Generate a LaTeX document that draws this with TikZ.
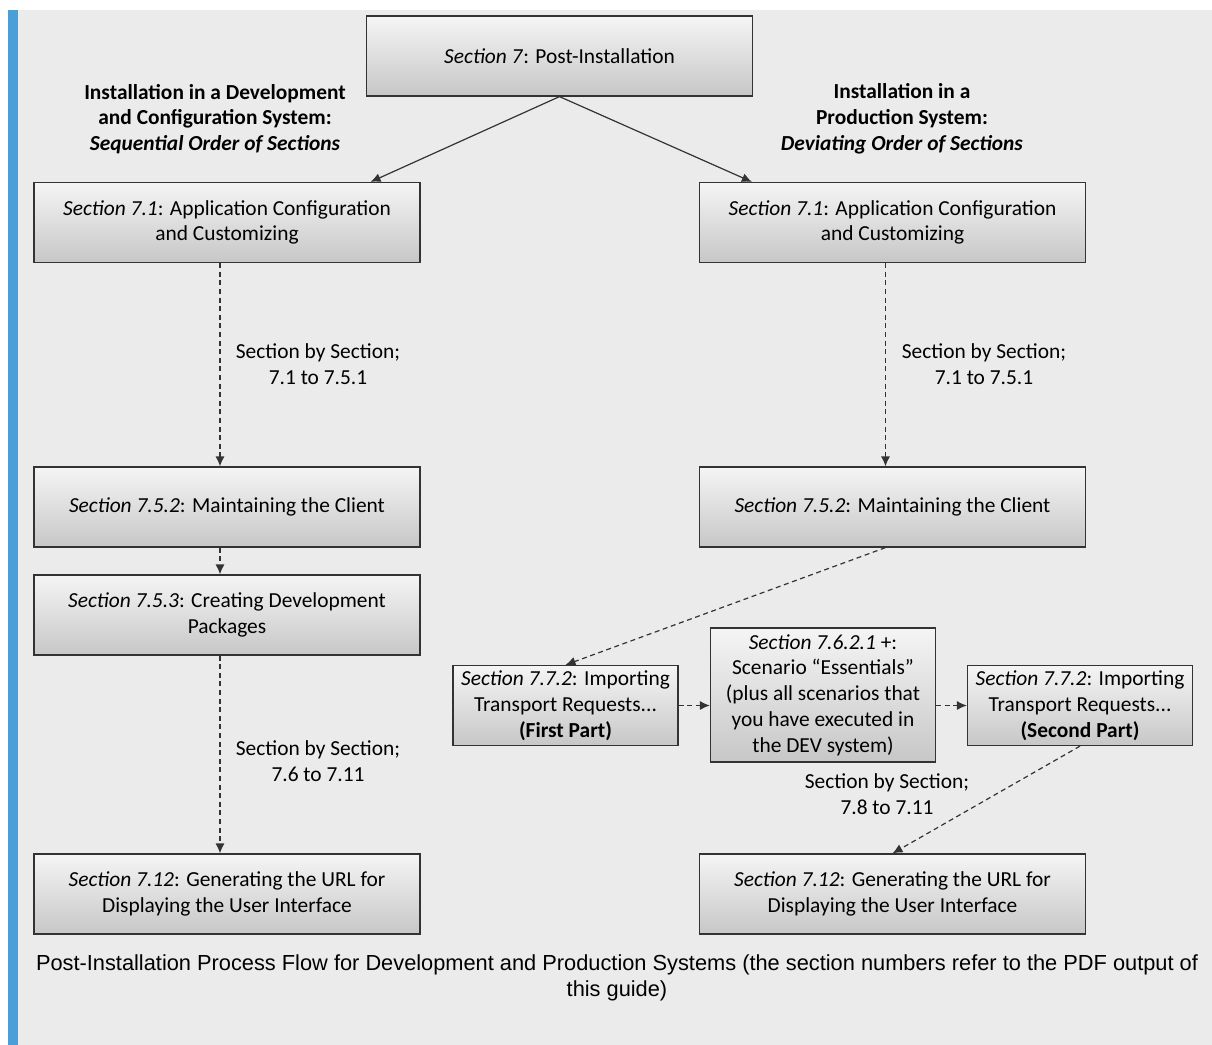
\documentclass[tikz,border=0pt]{standalone}
\usepackage{fontspec}
\setmainfont{Carlito}
\newfontfamily\capfont{Liberation Sans}
\usepackage{xcolor}
\usetikzlibrary{arrows.meta}

\definecolor{bggray}{HTML}{EBEBEB}
\definecolor{barblue}{HTML}{4A9FD8}
\definecolor{linegray}{HTML}{333333}

\begin{document}
\begin{tikzpicture}[x=0.5pt,y=-0.5pt,
    box/.style={draw=linegray, line width=0.6pt, top color=black!4, bottom color=black!22,
        minimum width=193pt, minimum height=40pt, align=center, inner sep=2pt,
        font=\fontsize{10.7}{12.9}\selectfont},
    sbox/.style={box, minimum width=112.5pt},
    hdr/.style={align=center, font=\fontsize{10.7}{12.9}\selectfont\bfseries},
    lbl/.style={align=center, font=\fontsize{10.7}{12.9}\selectfont},
    arr/.style={draw=linegray, line width=0.6pt, -{Latex[length=5pt,width=4.5pt]}},
    darr/.style={arr, dash pattern=on 2.5pt off 1.8pt}
]
    \useasboundingbox (0,0) rectangle (1212,1045);
    \fill[white] (0,0) rectangle (1212,1045);
    \fill[bggray] (18,10) rectangle (1212,1045);
    \fill[barblue] (8,10) rectangle (18,1045);

    \node[box] (S7) at (559.5,56) {\textit{Section 7}: Post-Installation};

    \node[hdr] (HL) at (215,119) {Installation in a Development\\and Configuration System:\\\textit{Sequential Order of Sections}};
    \node[hdr] (HR) at (902,119) {Installation in a\\Production System:\\\textit{Deviating Order of Sections}};

    % left column
    \node[box] (L1) at (227,222.5) {\textit{Section 7.1}: Application Configuration\\and Customizing};
    \node[box] (L2) at (227,507) {\textit{Section 7.5.2}: Maintaining the Client};
    \node[box] (L3) at (227,615) {\textit{Section 7.5.3}: Creating Development\\Packages};
    \node[box] (L4) at (227,894) {\textit{Section 7.12}: Generating the URL for\\Displaying the User Interface};

    % right column
    \node[box] (R1) at (892.5,222.5) {\textit{Section 7.1}: Application Configuration\\and Customizing};
    \node[box] (R2) at (892.5,507) {\textit{Section 7.5.2}: Maintaining the Client};
    \node[sbox] (B1) at (565.5,705.5) {\textit{Section 7.7.2}: Importing\\Transport Requests...\\\textbf{(First Part)}};
    \node[sbox, minimum height=67pt] (B2) at (823,695) {\textit{Section 7.6.2.1} +:\\Scenario “Essentials”\\(plus all scenarios that\\you have executed in\\the DEV system)};
    \node[sbox] (B3) at (1080,705.5) {\textit{Section 7.7.2}: Importing\\Transport Requests...\\\textbf{(Second Part)}};
    \node[box] (R4) at (892.5,894) {\textit{Section 7.12}: Generating the URL for\\Displaying the User Interface};

    \node[lbl] (LA) at (318,364) {Section by Section;\\7.1 to 7.5.1};
    \node[lbl] (LB) at (318,761.5) {Section by Section;\\7.6 to 7.11};
    \node[lbl] (RA) at (984,364) {Section by Section;\\7.1 to 7.5.1};
    \node[lbl] (RB) at (887,794.5) {Section by Section;\\7.8 to 7.11};

    \node[align=center, font=\capfont\fontsize{10.9}{13}\selectfont] (CAP) at (617,978)
        {Post-Installation Process Flow for Development and Production Systems (the section numbers refer to the PDF output of\\this guide)};

    \draw[arr] (S7.south) -- ([xshift=-25pt]L1.north east);
    \draw[arr] (S7.south) -- ([xshift=26.5pt]R1.north west);

    \draw[darr] ([xshift=-3.5pt]L1.south) -- ([xshift=-3.5pt]L2.north);
    \draw[darr] ([xshift=-3.5pt]L2.south) -- ([xshift=-3.5pt]L3.north);
    \draw[darr] ([xshift=-3.5pt]L3.south) -- ([xshift=-3.5pt]L4.north);

    \draw[darr] ([xshift=-3.5pt]R1.south) -- ([xshift=-3.5pt]R2.north);
    \draw[darr] ([xshift=-3.5pt]R2.south) -- (B1.north);
    \draw[darr] (B1.east) -- (B1.east -| B2.west);
    \draw[darr] (B2.east |- B3.west) -- (B3.west);
    \draw[darr] (B3.south) -- (R4.north);
\end{tikzpicture}
\end{document}
